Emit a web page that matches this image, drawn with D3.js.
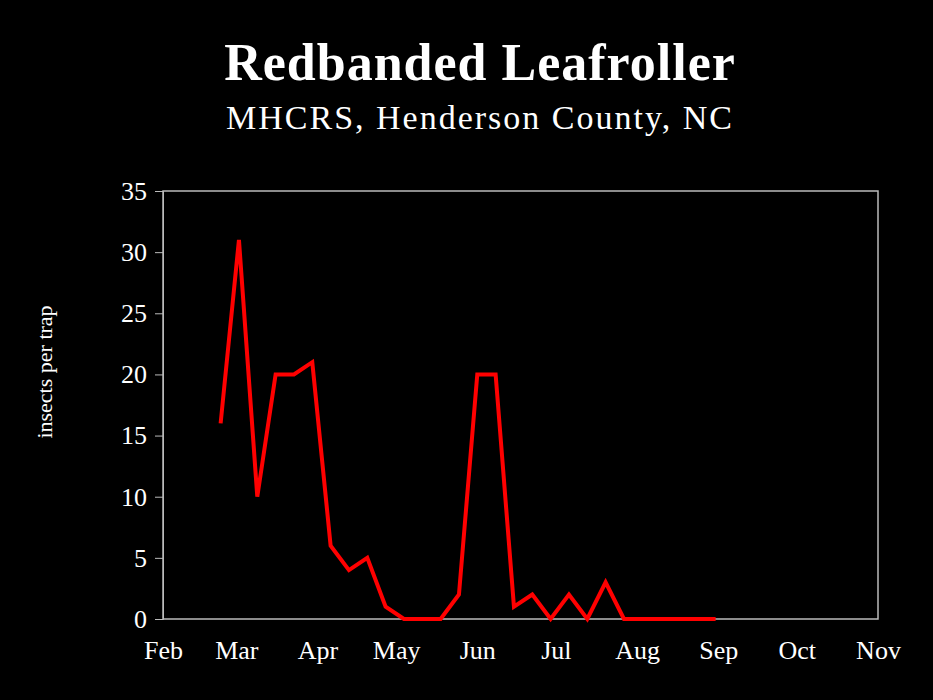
<!DOCTYPE html>
<html><head><meta charset="utf-8">
<script src="https://cdn.jsdelivr.net/npm/d3@7"></script>
<style>body{margin:0;background:#000}</style></head>
<body><svg id="c" width="933" height="700"></svg>
<script>
const dates = ["2005-02-23","2005-03-02","2005-03-09","2005-03-16","2005-03-23","2005-03-30","2005-04-06","2005-04-13","2005-04-20","2005-04-27","2005-05-04","2005-05-11","2005-05-18","2005-05-25","2005-06-01","2005-06-08","2005-06-15","2005-06-22","2005-06-29","2005-07-06","2005-07-13","2005-07-20","2005-07-27","2005-08-03","2005-08-10","2005-08-17","2005-08-24","2005-08-31"];
const counts = [16,31,10,20,20,21,6,4,5,1,0,0,0,2,20,20,1,2,0,2,0,3,0,0,0,0,0,0];
const monthLabels = ["Feb","Mar","Apr","May","Jun","Jul","Aug","Sep","Oct","Nov"];
const yTicks = [0,5,10,15,20,25,30,35];

const svg = d3.select("#c");
const font = "'Liberation Serif', serif";
const parse = d3.timeParse("%Y-%m-%d");
const x = d3.scaleTime().domain([new Date(2005,1,1), new Date(2005,10,1)]).range([163,878]);
const y = d3.scaleLinear().domain([0,35]).range([619,191]);

svg.append("rect").attr("width",933).attr("height",700).attr("fill","#000");
svg.append("text").attr("x",480).attr("y",80).attr("text-anchor","middle").attr("fill","#fff")
  .attr("font-family",font).attr("font-weight","bold").attr("font-size",52).attr("letter-spacing",1).text("Redbanded Leafroller");
svg.append("text").attr("x",480).attr("y",129).attr("text-anchor","middle").attr("fill","#fff")
  .attr("font-family",font).attr("font-size",34).attr("letter-spacing",2).text("MHCRS, Henderson County, NC");

svg.append("rect").attr("x",163).attr("y",191).attr("width",715).attr("height",428)
  .attr("fill","none").attr("stroke","#bbb").attr("stroke-width",1.5);

const ya = svg.append("g").attr("transform","translate(163,0)")
  .call(d3.axisLeft(y).tickValues(yTicks).tickSize(8).tickPadding(8));
ya.select(".domain").attr("stroke","#bbb");
ya.selectAll("line").attr("stroke","#bbb");
ya.selectAll("text").attr("fill","#fff").attr("font-family",font).attr("font-size",26);

const months = monthLabels.map((m,i)=>new Date(2005,1+i,1));
const xa = svg.append("g").attr("transform","translate(0,619)")
  .call(d3.axisBottom(x).tickValues(months).tickFormat((d,i)=>monthLabels[i]).tickSize(0).tickPadding(22));
xa.select(".domain").remove();
xa.selectAll("text").attr("fill","#fff").attr("font-family",font).attr("font-size",26);

svg.append("text").attr("transform","translate(52,372) rotate(-90)").attr("text-anchor","middle")
  .attr("fill","#fff").attr("font-family",font).attr("font-size",22).text("insects per trap");

const data = dates.map((d,i)=>({d:parse(d),v:counts[i]}));
svg.append("path").datum(data).attr("fill","none").attr("stroke","#ff0000").attr("stroke-width",4)
  .attr("stroke-linejoin","miter")
  .attr("d",d3.line().x(d=>x(d.d)).y(d=>y(d.v)));
</script></body></html>
